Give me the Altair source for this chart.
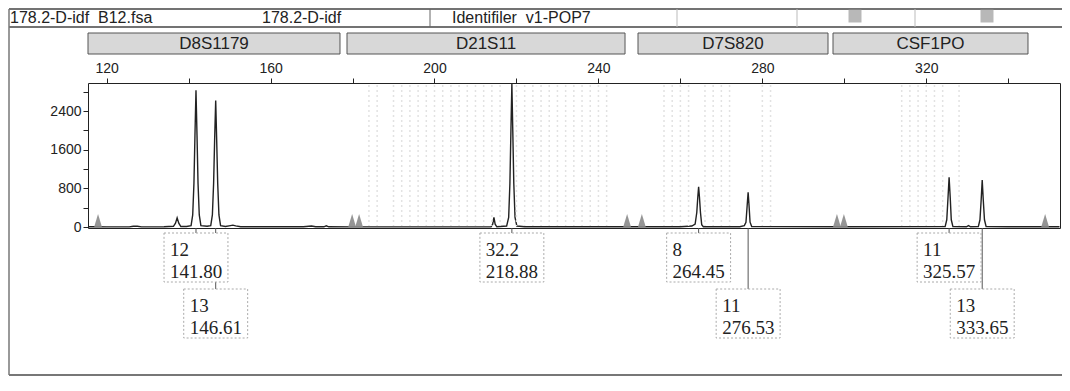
import altair as alt
import pandas as pd

# ---------------- data ----------------
trace_size = [115.5, 117.0, 120.0, 125.5, 126.5, 127.5, 128.5, 134.0, 136.3, 136.8, 137.2, 137.6, 138.1,
              139.5, 140.6, 141.0, 141.3, 141.55, 141.8, 142.05, 142.3, 142.6, 143.0, 144.5,
              145.4, 145.8, 146.1, 146.35, 146.61, 146.85, 147.1, 147.4, 147.8, 149.0,
              150.2, 150.8, 151.5, 152.7, 168.0, 170.0, 171.0, 173.0, 173.6, 174.2, 180.0,
              213.8, 214.2, 214.5, 214.8, 215.2, 217.6, 218.1, 218.4, 218.65, 218.88, 219.1,
              219.35, 219.65, 220.1, 222.0, 260.0, 262.8, 263.6, 264.0, 264.25, 264.45, 264.65,
              264.9, 265.2, 265.6, 274.5, 275.6, 276.0, 276.3, 276.53, 276.75, 277.0, 277.4,
              300.0, 324.6, 325.0, 325.3, 325.57, 325.85, 326.1, 326.5, 329.8, 330.3, 330.8,
              332.7, 333.1, 333.4, 333.65, 333.9, 334.2, 334.6, 340.0, 352.5]
trace_rfu = [5, 5, 3, 3, 15, 15, 3, 5, 15, 80, 190, 80, 10,
             10, 30, 250, 900, 1900, 2830, 1900, 900, 250, 30, 15,
             30, 250, 900, 1800, 2620, 1800, 900, 250, 30, 10,
             30, 40, 25, 5, 5, 20, 5, 5, 25, 5, 3,
             5, 60, 200, 60, 5, 20, 200, 900, 2000, 2960, 2000,
             900, 200, 20, 5, 5, 20, 60, 300, 620, 830, 620,
             300, 50, 5, 5, 30, 100, 450, 720, 450, 100, 10,
             5, 10, 150, 600, 1030, 600, 150, 10, 5, 30, 5,
             10, 150, 570, 970, 570, 150, 10, 5, 5]

marker_names = ["D8S1179", "D21S11", "D7S820", "CSF1PO"]
marker_start = [115.45, 178.65, 249.66, 297.24]
marker_end = [176.94, 246.49, 296.02, 344.82]

allele_names = ["12", "13", "32.2", "8", "11", "11", "13"]
allele_sizes = [141.80, 146.61, 218.88, 264.45, 276.53, 325.57, 333.65]
allele_row = [1, 2, 1, 1, 2, 1, 2]

ladder_marks = [117.9, 179.9, 181.6, 247.0, 250.6, 298.2, 299.9, 349.0]

bin_sizes = [184, 186, 190, 192, 194, 196, 198, 200, 202, 204, 206, 208, 210, 212, 214,
             216, 220, 222, 224, 226, 228, 230, 232, 234, 236, 238, 240, 242,
             256, 258, 260, 262, 266, 268, 270, 272, 280, 282,
             314, 316, 318, 320, 322, 324, 328]

x_ticks = [120, 140, 160, 180, 200, 220, 240, 260, 280, 300, 320, 340]
y_ticks = [0, 400, 800, 1200, 1600, 2000, 2400, 2800]

header_texts = ["178.2-D-idf\u00a0\u00a0B12.fsa", "178.2-D-idf", "Identifiler\u00a0\u00a0v1-POP7"]

# ---------------- tables ----------------
trace = pd.DataFrame({"size": trace_size, "rfu": trace_rfu})
markers = pd.DataFrame({"name": marker_names, "start": marker_start, "end": marker_end})
alleles = pd.DataFrame({"allele": allele_names, "size": allele_sizes, "row": allele_row})
ladder = pd.DataFrame({"size": ladder_marks})
bins = pd.DataFrame({"size": bin_sizes})
one = pd.DataFrame({"k": [0]})

W, H = 972, 145
SANS = "Liberation Sans"
SERIF = "Liberation Serif"
INK = "#222222"

xscale = alt.Scale(domain=[115.45, 352.63], nice=False, zero=False)
yscale = alt.Scale(domain=[-20, 2980], nice=False, zero=False)

xaxis = alt.Axis(orient="top", values=x_ticks, title=None,
                 labelExpr="datum.value % 40 == 0 ? datum.label : ''",
                 domain=False, grid=False, tickColor=INK, tickSize=5,
                 labelFont=SANS, labelFontSize=14, labelColor=INK, labelPadding=3)
yaxis = alt.Axis(values=y_ticks, title=None,
                 labelExpr="datum.value % 800 == 0 ? datum.label : ''",
                 format="d", domain=False, grid=False, tickColor=INK, tickSize=5,
                 labelFont=SANS, labelFontSize=14, labelColor=INK, labelPadding=2)

def xq(field):
    return alt.X(f"{field}:Q", scale=xscale, axis=xaxis, title=None)

# trace
trace_layer = alt.Chart(trace).mark_line(color=INK, strokeWidth=1.4).encode(
    x=xq("size"),
    y=alt.Y("rfu:Q", scale=yscale, axis=yaxis, title=None),
)

# bins (faint background stripes)
bin_layer = alt.Chart(bins).mark_rule(color="#e2e2e2", strokeDash=[2, 3], strokeWidth=1.5).encode(
    x=xq("size"), y=alt.value(2), y2=alt.value(143)
)

# ladder/size-standard triangles
tri_layer = alt.Chart(ladder).mark_point(
    shape="M0,-1L-0.6,1L0.6,1Z", filled=True, size=169, color="#8a8a8a", opacity=0.9, yOffset=-6.5
).encode(x=xq("size"), y=alt.Y(datum=0, scale=yscale, axis=yaxis, title=None))

layers = [trace_layer, bin_layer, tri_layer]

# allele label connectors, boxes, texts
row_box = {1: (150, 199), 2: (206, 255)}
row_text = {1: (167, 189), 2: (223, 245)}
for r in (1, 2):
    base = alt.Chart(alleles).transform_filter(f"datum.row == {r}")
    layers.append(base.mark_rule(color="#555555", strokeWidth=1).encode(
        x=xq("size"), y=alt.value(145), y2=alt.value(row_box[r][0])))
for r in (1, 2):
    base = alt.Chart(alleles).transform_filter(f"datum.row == {r}").transform_calculate(
        lo="datum.size - 7.8", hi="datum.size + 7.8")
    layers.append(base.mark_rect(fill="white", stroke="#aaaaaa", strokeDash=[2, 2], strokeWidth=1).encode(
        x=xq("lo"), x2="hi:Q", y=alt.value(row_box[r][0]), y2=alt.value(row_box[r][1])))
    layers.append(base.mark_text(align="left", baseline="middle", dx=-26, font=SERIF, fontSize=19,
                                 color=INK).encode(
        x=xq("size"), y=alt.value(row_text[r][0]), text="allele:N"))
    layers.append(base.mark_text(align="left", baseline="middle", dx=-26, font=SERIF, fontSize=19,
                                 color=INK).encode(
        x=xq("size"), y=alt.value(row_text[r][1]), text=alt.Text("size:Q", format=".2f")))

# marker bins boxes
mk = alt.Chart(markers).transform_calculate(mid="(datum.start + datum.end) / 2")
layers.append(mk.mark_rect(fill="#d8d8d8", stroke="#555555", strokeWidth=1).encode(
    x=xq("start"), x2="end:Q", y=alt.value(-50), y2=alt.value(-29)))
layers.append(mk.mark_text(font=SANS, fontSize=17, color=INK, baseline="middle").encode(
    x=xq("mid"), y=alt.value(-39), text="name:N"))

# header row
RIGHT = 974
hdr = alt.Chart(one)
for yv in (-74, -56):
    layers.append(hdr.mark_rule(color="#444444", strokeWidth=1.5).encode(
        x=alt.value(-79), x2=alt.value(RIGHT), y=alt.value(yv)))
for xv in (342, 589, 709, 827):
    layers.append(hdr.mark_rule(color="#bbbbbb" if xv != 342 else "#666666", strokeWidth=1).encode(
        x=alt.value(xv), y=alt.value(-74), y2=alt.value(-56)))
for xv, txt in zip((-78, 174, 364), header_texts):
    layers.append(hdr.mark_text(align="left", baseline="middle", font=SANS, fontSize=16, color=INK,
                                text=txt).encode(x=alt.value(xv), y=alt.value(-65)))
for xv in (767, 899):
    layers.append(hdr.mark_point(shape="square", filled=True, size=169, color="#9a9a9a").encode(
        x=alt.value(xv), y=alt.value(-67)))

# outer frame
BOTTOM = 292
layers.append(hdr.mark_rule(color="#777777", strokeWidth=1.5).encode(
    x=alt.value(-79), y=alt.value(-74), y2=alt.value(BOTTOM)))
layers.append(hdr.mark_rule(color="#777777", strokeWidth=2).encode(
    x=alt.value(-79), x2=alt.value(RIGHT), y=alt.value(BOTTOM)))

chart = alt.layer(*layers).properties(
    width=W, height=H,
    autosize=alt.AutoSizeParams(type="none"),
    padding={"left": 80, "top": 75, "right": 2, "bottom": 150},
    background="white",
).configure_view(stroke=INK, strokeWidth=1)

chart.save("out.html", embed_options={"renderer": "svg", "actions": False})
